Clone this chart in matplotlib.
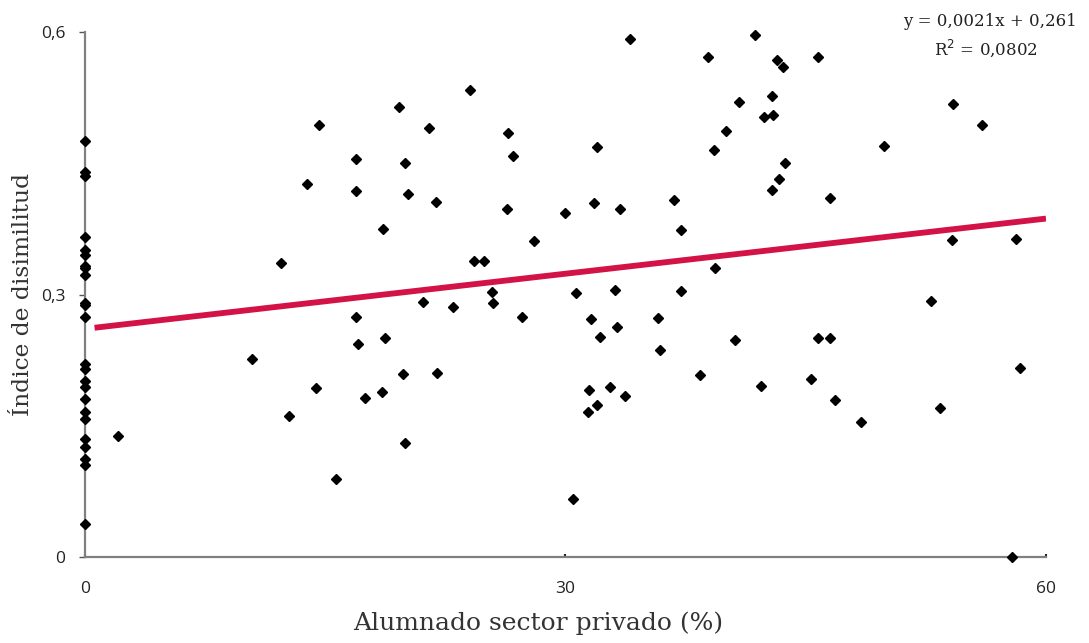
import numpy as np
import matplotlib
matplotlib.use("Agg")
import matplotlib.pyplot as plt

# % alumnado en sector privado vs índice de disimilitud
x0_vals = [0.476, 0.440, 0.436, 0.366, 0.351, 0.345, 0.333, 0.331, 0.322,
           0.290, 0.288, 0.275, 0.221, 0.215, 0.201, 0.194, 0.181, 0.166,
           0.158, 0.135, 0.126, 0.112, 0.105, 0.038]

priv = [2.08, 10.44, 12.25, 12.73, 13.87, 14.43, 14.64, 15.68, 16.93, 16.95,
        16.90, 17.06, 17.51, 18.54, 18.61, 18.76, 19.59, 19.88, 20.00, 20.00,
        20.19, 21.12, 21.50, 21.90, 22.00, 22.98, 24.02, 24.27, 24.93, 25.41,
        25.50, 26.34, 26.41, 26.74, 27.30, 28.05, 29.99, 30.44, 30.67, 31.40,
        31.49, 31.59, 31.80, 31.98, 32.00, 32.15, 32.81, 33.11, 33.23, 33.42,
        33.73, 34.00, 35.80, 35.91, 36.79, 37.22, 37.24, 38.43, 38.93, 39.26,
        39.34, 40.00, 40.59, 40.84, 41.86, 42.19, 42.41, 42.88, 42.90, 42.97,
        43.23, 43.31, 43.56, 43.70, 45.33, 45.75, 45.77, 46.50, 46.54, 46.80,
        48.45, 49.90, 52.83, 53.40, 54.15, 54.21, 56.02, 57.85, 58.10, 58.35]
disim = [0.139, 0.227, 0.336, 0.162, 0.427, 0.193, 0.494, 0.090, 0.275, 0.455,
         0.418, 0.244, 0.182, 0.189, 0.375, 0.250, 0.514, 0.209, 0.450, 0.131,
         0.415, 0.292, 0.490, 0.406, 0.210, 0.286, 0.534, 0.338, 0.338, 0.303,
         0.291, 0.398, 0.485, 0.458, 0.274, 0.361, 0.393, 0.067, 0.302, 0.166,
         0.191, 0.272, 0.405, 0.174, 0.469, 0.252, 0.195, 0.305, 0.263, 0.398,
         0.184, 0.592, 0.273, 0.237, 0.408, 0.304, 0.374, 0.208, 0.572, 0.465,
         0.331, 0.487, 0.248, 0.520, 0.597, 0.196, 0.503, 0.527, 0.420, 0.505,
         0.568, 0.432, 0.560, 0.450, 0.204, 0.572, 0.250, 0.250, 0.411, 0.180,
         0.155, 0.470, 0.293, 0.170, 0.362, 0.518, 0.494, 0.000, 0.364, 0.216]

slope = 0.0021
intercept = 0.261
r2 = 0.0802

x_all = np.array([0.0] * len(x0_vals) + priv)
y_all = np.array(x0_vals + disim)

fig = plt.figure(figsize=(10.89, 6.43), dpi=100)
ax = fig.add_axes([0.078, 0.1333, 0.8825, 0.8167])

xl = np.array([0.6, 60])
ax.plot(xl, slope * xl + intercept, color="#d31245", lw=4.2, solid_capstyle="butt", zorder=2)
ax.plot(x_all, y_all, "D", color="black", ms=5.2, ls="none", clip_on=False, zorder=3)

ax.set_xlim(0, 60)
ax.set_ylim(0, 0.6)
ax.set_xticks([0, 30, 60])
ax.set_xticklabels(["0", "30", "60"])
ax.set_yticks([0, 0.3, 0.6])
ax.set_yticklabels(["0", "0,3", "0,6"])

for side in ["top", "right"]:
    ax.spines[side].set_visible(False)
for side in ["left", "bottom"]:
    ax.spines[side].set_color("#808080")
    ax.spines[side].set_linewidth(1.6)

ax.tick_params(axis="y", direction="out", length=4, width=1, color="#555555",
               labelsize=12.5, labelcolor="#222222", pad=10)
ax.tick_params(axis="x", direction="in", length=2, width=1.5, color="#222222",
               labelsize=12.5, labelcolor="#222222", pad=17)
for lab in ax.get_xticklabels() + ax.get_yticklabels():
    lab.set_family("Open Sans")

ax.set_xlabel("Alumnado sector privado (%)", family="DejaVu Serif", fontsize=18,
              color="#333333")
ax.set_ylabel("Índice de disimilitud", family="DejaVu Serif", fontsize=16.8,
              color="#333333")
ax.xaxis.set_label_coords(0.472, -0.103)
ax.yaxis.set_label_coords(-0.053, 0.5)

fig.text(0.909, 0.967, "y = 0,0021x + 0,261", ha="center", va="center",
         family="DejaVu Serif", fontsize=12, color="#222222")
fig.text(0.905, 0.925, "R$^2$ = 0,0802", ha="center", va="center",
         family="DejaVu Serif", fontsize=12, color="#222222")

fig.savefig("out.png", dpi=100)
